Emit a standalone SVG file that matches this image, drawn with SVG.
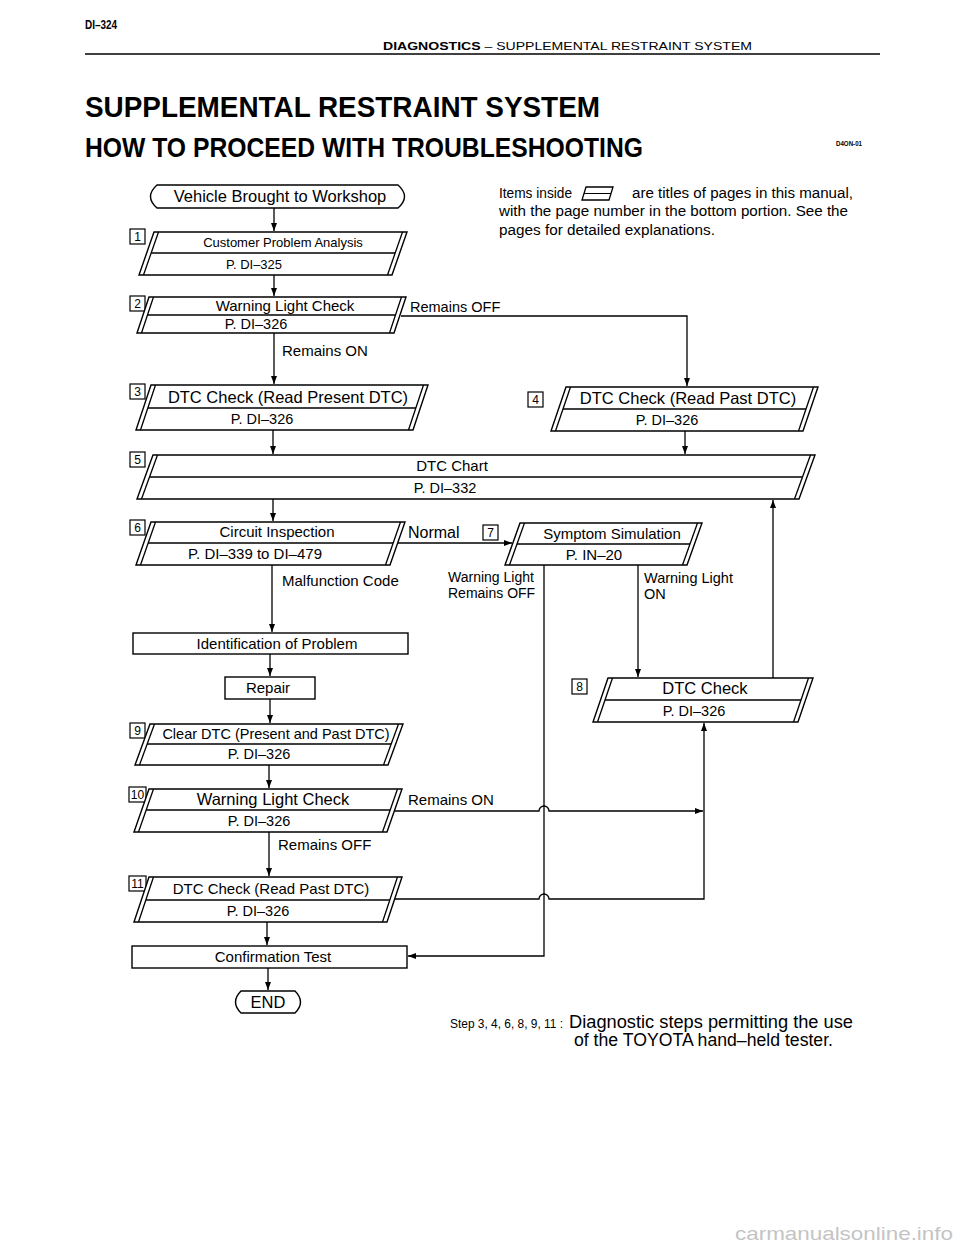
<svg xmlns="http://www.w3.org/2000/svg" width="960" height="1250" viewBox="0 0 960 1250">
<style>
text{font-family:"Liberation Sans",Arial,Helvetica,sans-serif;fill:#000}
.b{font-weight:bold}
.sh{fill:#fff;stroke:#000;stroke-width:1.4}
.ln{fill:none;stroke:#000;stroke-width:1.3}
.c{text-anchor:middle}
.num{fill:#fff;stroke:#000;stroke-width:1.2}
.nt{font-size:12px;text-anchor:middle}
.f13{font-size:13px}.f14{font-size:14px}.f145{font-size:14.5px}.f15{font-size:15px}.f16{font-size:16px}.f165{font-size:16.5px}.f17{font-size:17px}
</style>
<defs>
<marker id="ah" markerWidth="9" markerHeight="7" refX="8" refY="3.5" orient="auto" markerUnits="userSpaceOnUse">
<path d="M0,0.5 L8,3.5 L0,6.5 Z" fill="#000"/>
</marker>
</defs>
<rect width="960" height="1250" fill="#fff"/>

<g id="header">
<text x="85" y="29" class="b" font-size="13" textLength="32" lengthAdjust="spacingAndGlyphs">DI–324</text>
<text x="383" y="50" font-size="11.5" textLength="369" lengthAdjust="spacingAndGlyphs"><tspan class="b">DIAGNOSTICS</tspan>  –  SUPPLEMENTAL RESTRAINT SYSTEM</text>
<line x1="85" y1="54" x2="880" y2="54" stroke="#000" stroke-width="1.6"/>
<text x="85" y="117" class="b" font-size="29" textLength="515" lengthAdjust="spacingAndGlyphs">SUPPLEMENTAL RESTRAINT SYSTEM</text>
<text x="85" y="157" class="b" font-size="28" textLength="558" lengthAdjust="spacingAndGlyphs">HOW TO PROCEED WITH TROUBLESHOOTING</text>
<text x="836" y="146" class="b" font-size="7" textLength="26" lengthAdjust="spacingAndGlyphs">D4ON-01</text>
</g>

<g id="legend">
<text x="499" y="198" font-size="14" textLength="73" lengthAdjust="spacingAndGlyphs">Items inside</text>
<polygon points="586,187 613,187 609,200 582,200" fill="none" stroke="#000" stroke-width="1.3"/>
<line x1="584" y1="193.5" x2="611" y2="193.5" stroke="#000" stroke-width="1"/>
<text x="632" y="198" font-size="14" textLength="221" lengthAdjust="spacingAndGlyphs">are titles of pages in this manual,</text>
<text x="499" y="216" font-size="14" textLength="349" lengthAdjust="spacingAndGlyphs">with the page number in the bottom portion. See the</text>
<text x="499" y="235" font-size="14" textLength="216" lengthAdjust="spacingAndGlyphs">pages for detailed explanations.</text>
</g>

<g id="connectors">
<line class="ln" x1="274" y1="208" x2="274" y2="231" marker-end="url(#ah)"/>
<line class="ln" x1="274" y1="275" x2="274" y2="296" marker-end="url(#ah)"/>
<line class="ln" x1="274" y1="333" x2="274" y2="384" marker-end="url(#ah)"/>
<path class="ln" d="M401 316 H687 V386" marker-end="url(#ah)"/>
<line class="ln" x1="273" y1="430" x2="273" y2="454" marker-end="url(#ah)"/>
<line class="ln" x1="685" y1="431" x2="685" y2="454" marker-end="url(#ah)"/>
<line class="ln" x1="273" y1="499" x2="273" y2="521" marker-end="url(#ah)"/>
<path class="ln" d="M398 543 H512" marker-end="url(#ah)"/>
<line class="ln" x1="272" y1="565" x2="272" y2="632" marker-end="url(#ah)"/>
<line class="ln" x1="270" y1="654" x2="270" y2="676" marker-end="url(#ah)"/>
<line class="ln" x1="270" y1="699" x2="270" y2="723" marker-end="url(#ah)"/>
<line class="ln" x1="269" y1="765" x2="269" y2="788" marker-end="url(#ah)"/>
<line class="ln" x1="269" y1="832" x2="269" y2="876" marker-end="url(#ah)"/>
<line class="ln" x1="267" y1="922" x2="267" y2="945" marker-end="url(#ah)"/>
<line class="ln" x1="268" y1="968" x2="268" y2="990" marker-end="url(#ah)"/>
<path class="ln" d="M544 565 V956 H408" marker-end="url(#ah)"/>
<line class="ln" x1="638" y1="565" x2="638" y2="677" marker-end="url(#ah)"/>
<line class="ln" x1="773" y1="678" x2="773" y2="500" marker-end="url(#ah)"/>
<path class="ln" d="M395 811 H539 A5 5 0 0 1 549 811 H703" marker-end="url(#ah)"/>
<path class="ln" d="M395 899 H539 A5 5 0 0 1 549 899 H704 V723" marker-end="url(#ah)"/>
</g>

<g id="start">
<path class="sh" d="M157 185 H398 Q411 196.5 398 208 H157 Q144 196.5 157 185 Z"/>
<text x="280" y="202" class="c f165">Vehicle Brought to Workshop</text>
</g>

<g id="step1">
<rect class="num" x="130" y="229" width="15" height="15"/><text x="137.5" y="241" class="nt">1</text>
<polygon class="sh" points="154,232 407,232 392,275 139,275"/>
<line class="ln" x1="158.5" y1="232" x2="143.5" y2="275"/><line class="ln" x1="402.5" y1="232" x2="387.5" y2="275"/>
<line class="ln" x1="151" y1="253" x2="395" y2="253"/>
<text x="283" y="247" class="c f13">Customer Problem Analysis</text>
<text x="254" y="269" class="c f13">P. DI–325</text>
</g>

<g id="step2">
<rect class="num" x="130" y="296" width="15" height="15"/><text x="137.5" y="308" class="nt">2</text>
<polygon class="sh" points="149,297 406,297 394,333 137,333"/>
<line class="ln" x1="153.5" y1="297" x2="141.5" y2="333"/><line class="ln" x1="401.5" y1="297" x2="389.5" y2="333"/>
<line class="ln" x1="147" y1="315" x2="396" y2="315"/>
<text x="285" y="311" class="c f15">Warning Light Check</text>
<text x="256" y="329" class="c f145">P. DI–326</text>
<text x="410" y="312" class="f145">Remains OFF</text>
<text x="282" y="356" class="f15">Remains ON</text>
</g>

<g id="step3">
<rect class="num" x="130" y="384" width="15" height="15"/><text x="137.5" y="396" class="nt">3</text>
<polygon class="sh" points="151,385 428,385 413,430 136,430"/>
<line class="ln" x1="155.5" y1="385" x2="140.5" y2="430"/><line class="ln" x1="423.5" y1="385" x2="408.5" y2="430"/>
<line class="ln" x1="148" y1="408" x2="416" y2="408"/>
<text x="288" y="403" class="c f165">DTC Check (Read Present DTC)</text>
<text x="262" y="424" class="c f145">P. DI–326</text>
</g>

<g id="step4">
<rect class="num" x="528" y="392" width="15" height="15"/><text x="535.5" y="404" class="nt">4</text>
<polygon class="sh" points="566,387 818,387 803,431 551,431"/>
<line class="ln" x1="570.5" y1="387" x2="555.5" y2="431"/><line class="ln" x1="813.5" y1="387" x2="798.5" y2="431"/>
<line class="ln" x1="563" y1="409" x2="806" y2="409"/>
<text x="688" y="404" class="c f165">DTC Check (Read Past DTC)</text>
<text x="667" y="425" class="c f145">P. DI–326</text>
</g>

<g id="step5">
<rect class="num" x="130" y="452" width="15" height="15"/><text x="137.5" y="464" class="nt">5</text>
<polygon class="sh" points="153,455 815,455 799,499 137,499"/>
<line class="ln" x1="157.5" y1="455" x2="141.5" y2="499"/><line class="ln" x1="810.5" y1="455" x2="794.5" y2="499"/>
<line class="ln" x1="150" y1="477" x2="802" y2="477"/>
<text x="452" y="471" class="c f15">DTC Chart</text>
<text x="445" y="493" class="c f145">P. DI–332</text>
</g>

<g id="step6">
<rect class="num" x="130" y="520" width="15" height="15"/><text x="137.5" y="532" class="nt">6</text>
<polygon class="sh" points="151,522 405,522 390,565 136,565"/>
<line class="ln" x1="155.5" y1="522" x2="140.5" y2="565"/><line class="ln" x1="400.5" y1="522" x2="385.5" y2="565"/>
<line class="ln" x1="148" y1="543" x2="393" y2="543"/>
<text x="277" y="537" class="c f15">Circuit Inspection</text>
<text x="255" y="559" class="c f15">P. DI–339 to DI–479</text>
<text x="408" y="538" class="f16">Normal</text>
<text x="282" y="586" class="f15">Malfunction Code</text>
</g>

<g id="step7">
<rect class="num" x="483" y="525" width="15" height="15"/><text x="490.5" y="537" class="nt">7</text>
<polygon class="sh" points="520,523 702,523 687,565 505,565"/>
<line class="ln" x1="524.5" y1="523" x2="509.5" y2="565"/><line class="ln" x1="697.5" y1="523" x2="682.5" y2="565"/>
<line class="ln" x1="517" y1="544" x2="690" y2="544"/>
<text x="612" y="539" class="c f15">Symptom Simulation</text>
<text x="594" y="560" class="c f15">P. IN–20</text>
<text x="448" y="582" class="f14">Warning Light</text>
<text x="448" y="598" class="f14">Remains OFF</text>
<text x="644" y="583" class="f145">Warning Light</text>
<text x="644" y="599" class="f145">ON</text>
</g>

<g id="identify">
<rect class="sh" x="133" y="633" width="275" height="21"/>
<text x="277" y="649" class="c f15">Identification of Problem</text>
</g>

<g id="repair">
<rect class="sh" x="225" y="677" width="90" height="22"/>
<text x="268" y="693" class="c f15">Repair</text>
</g>

<g id="step8">
<rect class="num" x="572" y="679" width="15" height="15"/><text x="579.5" y="691" class="nt">8</text>
<polygon class="sh" points="608,678 813,678 798,722 593,722"/>
<line class="ln" x1="612.5" y1="678" x2="597.5" y2="722"/><line class="ln" x1="808.5" y1="678" x2="793.5" y2="722"/>
<line class="ln" x1="605" y1="700" x2="801" y2="700"/>
<text x="705" y="694" class="c f165">DTC Check</text>
<text x="694" y="716" class="c f145">P. DI–326</text>
</g>

<g id="step9">
<rect class="num" x="130" y="723" width="15" height="15"/><text x="137.5" y="735" class="nt">9</text>
<polygon class="sh" points="150,724 403,724 388,765 135,765"/>
<line class="ln" x1="154.5" y1="724" x2="139.5" y2="765"/><line class="ln" x1="398.5" y1="724" x2="383.5" y2="765"/>
<line class="ln" x1="147" y1="744" x2="391" y2="744"/>
<text x="276" y="739" class="c f145">Clear DTC (Present and Past DTC)</text>
<text x="259" y="759" class="c f145">P. DI–326</text>
</g>

<g id="step10">
<rect class="num" x="129" y="787" width="17" height="15"/><text x="137.5" y="799" class="nt">10</text>
<polygon class="sh" points="149,789 402,789 387,832 134,832"/>
<line class="ln" x1="153.5" y1="789" x2="138.5" y2="832"/><line class="ln" x1="397.5" y1="789" x2="382.5" y2="832"/>
<line class="ln" x1="146" y1="810" x2="390" y2="810"/>
<text x="273" y="805" class="c f165">Warning Light Check</text>
<text x="259" y="826" class="c f145">P. DI–326</text>
<text x="408" y="805" class="f15">Remains ON</text>
<text x="278" y="850" class="f15">Remains OFF</text>
</g>

<g id="step11">
<rect class="num" x="129" y="876" width="17" height="15"/><text x="137.5" y="888" class="nt">11</text>
<polygon class="sh" points="149,877 402,877 387,922 134,922"/>
<line class="ln" x1="153.5" y1="877" x2="138.5" y2="922"/><line class="ln" x1="397.5" y1="877" x2="382.5" y2="922"/>
<line class="ln" x1="146" y1="900" x2="390" y2="900"/>
<text x="271" y="894" class="c f15">DTC Check (Read Past DTC)</text>
<text x="258" y="916" class="c f145">P. DI–326</text>
</g>

<g id="confirm">
<rect class="sh" x="132" y="946" width="275" height="22"/>
<text x="273" y="962" class="c f15">Confirmation Test</text>
</g>

<g id="end">
<path class="sh" d="M241 991 H295 Q306 1002 295 1013 H241 Q230 1002 241 991 Z"/>
<text x="268" y="1008" class="c f165">END</text>
</g>

<g id="footer">
<text x="450" y="1028" font-size="13.5" textLength="113" lengthAdjust="spacingAndGlyphs">Step 3, 4, 6, 8, 9, 11 :</text>
<text x="569" y="1028" font-size="17.5" textLength="284" lengthAdjust="spacingAndGlyphs">Diagnostic steps permitting the use</text>
<text x="574" y="1046" font-size="17.5" textLength="259" lengthAdjust="spacingAndGlyphs">of the TOYOTA hand–held tester.</text>
</g>

<text x="735" y="1240" font-size="19" fill="#c4c4c4" style="fill:#c4c4c4" textLength="218" lengthAdjust="spacingAndGlyphs">carmanualsonline.info</text>
</svg>
